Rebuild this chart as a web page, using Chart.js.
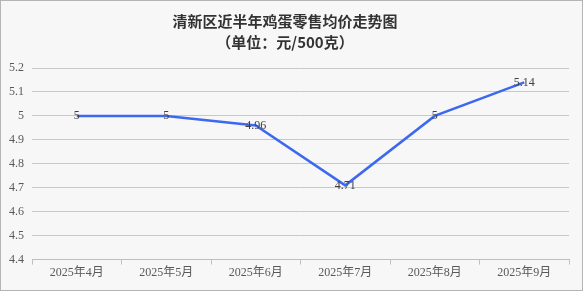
<!DOCTYPE html>
<html>
<head>
<meta charset="utf-8">
<script src="https://cdn.jsdelivr.net/npm/chart.js@4"></script>
<style>
  html, body { margin: 0; padding: 0; background: #fff; }
  #box { position: absolute; left: 0; top: 0; width: 581px; height: 289px; border: 1px solid #b4b4b4; background: #f7f7f7; }
  canvas { display: block; }
</style>
</head>
<body>
<div id="box"><canvas id="eggChart" width="581" height="289"></canvas></div>
<script>
var months = ["2025年4月", "2025年5月", "2025年6月", "2025年7月", "2025年8月", "2025年9月"];
var eggPrice = [5, 5, 4.96, 4.71, 5, 5.14];
var titleLines = ["清新区近半年鸡蛋零售均价走势图", "（单位：元/500克）"];

// labels drawn right on the points
var pointLabels = {
  id: 'pointLabels',
  afterDatasetsDraw: function(chart) {
    var ctx = chart.ctx;
    var meta = chart.getDatasetMeta(0);
    ctx.save();
    ctx.font = '12px "Liberation Serif", "Noto Sans CJK SC", serif';
    ctx.fillStyle = '#404040';
    ctx.textAlign = 'center';
    ctx.textBaseline = 'middle';
    meta.data.forEach(function(pt, i) {
      ctx.fillText(String(eggPrice[i]), pt.x, pt.y);
    });
    ctx.restore();
  }
};

var ctx = document.getElementById("eggChart").getContext('2d');
var myChart = new Chart(ctx, {
  type: 'line',
  data: {
    labels: months,
    datasets: [{
      label: '鸡蛋零售均价',
      data: eggPrice,
      borderColor: '#3d69f0',
      backgroundColor: '#3d69f0',
      borderWidth: 2.5,
      pointRadius: 0,
      tension: 0,
      fill: false
    }]
  },
  options: {
    responsive: false,
    animation: false,
    layout: { padding: { left: 0, right: 13, top: 4, bottom: 9 } },
    plugins: {
      legend: { display: false },
      tooltip: { enabled: false },
      title: {
        display: true,
        text: titleLines,
        color: '#333333',
        font: { family: '"Noto Sans CJK SC", sans-serif', size: 15, weight: 'bold', lineHeight: 1.4 },
        padding: { top: 6, bottom: 15 }
      }
    },
    scales: {
      x: {
        offset: true,
        grid: { display: true, drawOnChartArea: false, drawTicks: true, tickLength: 5, offset: true, color: '#bfbfbf' },
        border: { color: '#bfbfbf' },
        ticks: {
          padding: 1,
          color: '#595959',
          font: { family: '"Liberation Serif", "Noto Sans CJK SC", serif', size: 12 },
          maxRotation: 0
        }
      },
      y: {
        min: 4.4,
        max: 5.2,
        grid: { color: '#c8c8c8', drawTicks: false },
        border: { display: false },
        ticks: {
          stepSize: 0.1,
          padding: 8,
          color: '#595959',
          font: { family: '"Liberation Serif", serif', size: 12 },
          callback: function(v) { return Math.round(v * 10) / 10; }
        }
      }
    }
  },
  plugins: [pointLabels]
});
</script>
</body>
</html>
